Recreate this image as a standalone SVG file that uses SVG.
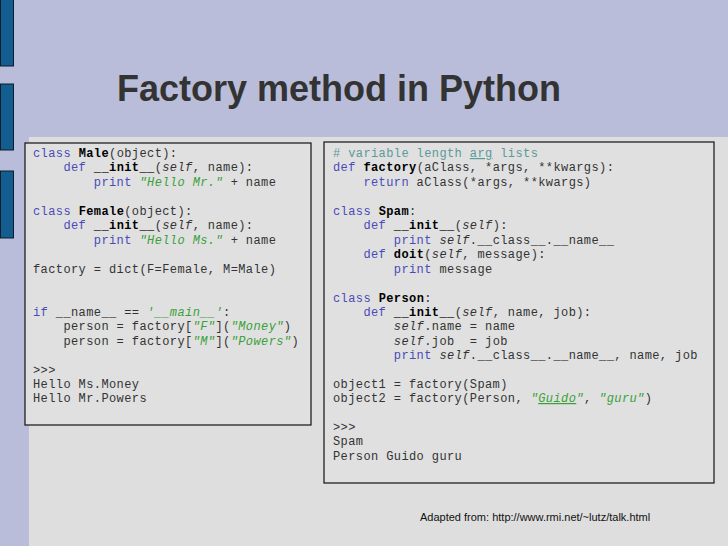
<svg xmlns="http://www.w3.org/2000/svg" width="728" height="546" viewBox="0 0 728 546">
<style>
.bar{fill:#135d8f;stroke:#0a1e33;stroke-width:1}
.box{fill:#e0e0e0;stroke:#111;stroke-width:1.2}
.c{font-family:"Liberation Mono",monospace;font-size:12px;letter-spacing:0.4px;fill:#333}
.k{fill:#4a4ab8}
.b{font-weight:bold;fill:#000}
.i{font-style:italic}
.s{fill:#3aa03a;font-style:italic}
.cm{fill:#5a9a9a}
.u{text-decoration:underline}
</style>
<rect width="728" height="546" fill="#b9bdd9"/>
<rect x="29" y="137" width="699" height="409" fill="#dedede"/>
<rect class="bar" x="0.5" y="-1" width="13" height="67"/>
<rect class="bar" x="0.5" y="84" width="13" height="66"/>
<rect class="bar" x="0.5" y="171" width="13" height="67"/>
<text x="117" y="101" font-family="Liberation Sans,Arial,sans-serif" font-weight="bold" font-size="36" fill="#333">Factory method in Python</text>
<g id="left">
<rect class="box" x="25" y="143" width="286" height="282"/>
<text class="c" x="33" y="157"><tspan class="k">class</tspan> <tspan class="b">Male</tspan>(object):</text>
<text class="c" x="33" y="171" xml:space="preserve">    <tspan class="k">def</tspan> <tspan class="b">__init__</tspan>(<tspan class="i">self</tspan>, name):</text>
<text class="c" x="33" y="186" xml:space="preserve">        <tspan class="k">print</tspan> <tspan class="s">"Hello Mr."</tspan> + name</text>
<text class="c" x="33" y="215"><tspan class="k">class</tspan> <tspan class="b">Female</tspan>(object):</text>
<text class="c" x="33" y="229" xml:space="preserve">    <tspan class="k">def</tspan> <tspan class="b">__init__</tspan>(<tspan class="i">self</tspan>, name):</text>
<text class="c" x="33" y="244" xml:space="preserve">        <tspan class="k">print</tspan> <tspan class="s">"Hello Ms."</tspan> + name</text>
<text class="c" x="33" y="273">factory = dict(F=Female, M=Male)</text>
<text class="c" x="33" y="316"><tspan class="k">if</tspan> __name__ == <tspan class="s">'__main__'</tspan>:</text>
<text class="c" x="33" y="330" xml:space="preserve">    person = factory[<tspan class="s">"F"</tspan>](<tspan class="s">"Money"</tspan>)</text>
<text class="c" x="33" y="345" xml:space="preserve">    person = factory[<tspan class="s">"M"</tspan>](<tspan class="s">"Powers"</tspan>)</text>
<text class="c" x="33" y="374">&gt;&gt;&gt;</text>
<text class="c" x="33" y="388">Hello Ms.Money</text>
<text class="c" x="33" y="402">Hello Mr.Powers</text>
</g>
<g id="right">
<rect class="box" x="324" y="142" width="390" height="341"/>
<text class="c" x="333" y="157"><tspan class="cm"># variable length <tspan class="u">arg</tspan> lists</tspan></text>
<text class="c" x="333" y="171"><tspan class="k">def</tspan> <tspan class="b">factory</tspan>(aClass, *args, **kwargs):</text>
<text class="c" x="333" y="186" xml:space="preserve">    <tspan class="k">return</tspan> aClass(*args, **kwargs)</text>
<text class="c" x="333" y="215"><tspan class="k">class</tspan> <tspan class="b">Spam</tspan>:</text>
<text class="c" x="333" y="229" xml:space="preserve">    <tspan class="k">def</tspan> <tspan class="b">__init__</tspan>(<tspan class="i">self</tspan>):</text>
<text class="c" x="333" y="244" xml:space="preserve">        <tspan class="k">print</tspan> <tspan class="i">self</tspan>.__class__.__name__</text>
<text class="c" x="333" y="258" xml:space="preserve">    <tspan class="k">def</tspan> <tspan class="b">doit</tspan>(<tspan class="i">self</tspan>, message):</text>
<text class="c" x="333" y="273" xml:space="preserve">        <tspan class="k">print</tspan> message</text>
<text class="c" x="333" y="302"><tspan class="k">class</tspan> <tspan class="b">Person</tspan>:</text>
<text class="c" x="333" y="316" xml:space="preserve">    <tspan class="k">def</tspan> <tspan class="b">__init__</tspan>(<tspan class="i">self</tspan>, name, job):</text>
<text class="c" x="333" y="330" xml:space="preserve">        <tspan class="i">self</tspan>.name = name</text>
<text class="c" x="333" y="345" xml:space="preserve">        <tspan class="i">self</tspan>.job  = job</text>
<text class="c" x="333" y="359" xml:space="preserve">        <tspan class="k">print</tspan> <tspan class="i">self</tspan>.__class__.__name__, name, job</text>
<text class="c" x="333" y="388">object1 = factory(Spam)</text>
<text class="c" x="333" y="402">object2 = factory(Person, <tspan class="s">"<tspan class="u">Guido</tspan>"</tspan>, <tspan class="s">"guru"</tspan>)</text>
<text class="c" x="333" y="431">&gt;&gt;&gt;</text>
<text class="c" x="333" y="445">Spam</text>
<text class="c" x="333" y="460">Person Guido guru</text>
</g>
<text x="420" y="521" font-family="Liberation Sans Narrow,Liberation Sans,sans-serif" font-size="11" fill="#111">Adapted from: http://www.rmi.net/~lutz/talk.html</text>
</svg>
